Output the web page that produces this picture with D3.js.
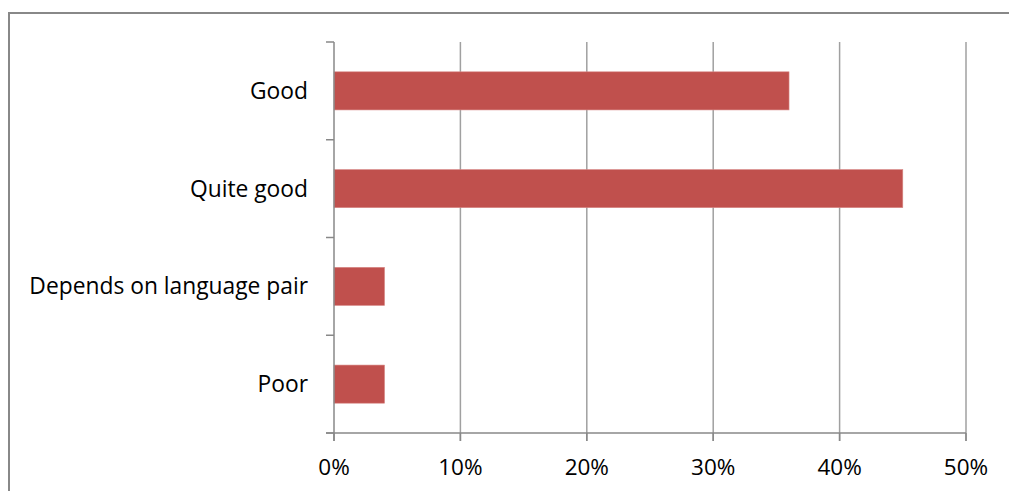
<!DOCTYPE html>
<html><head><meta charset="utf-8">
<script src="https://cdn.jsdelivr.net/npm/d3@7"></script>
<style>body{margin:0;background:#fff}svg{display:block}text{font-family:"Open Sans",sans-serif;fill:#000}</style>
</head><body><svg id="c" width="1009" height="491"></svg>
<script>
const categories = ["Good", "Quite good", "Depends on language pair", "Poor"];
const values = [36, 45, 4, 4];
const xTicks = [0, 10, 20, 30, 40, 50];

const svg = d3.select("#c");
svg.append("rect").attr("x",9).attr("y",13).attr("width",1100).attr("height",600)
  .attr("fill","none").attr("stroke","#888").attr("stroke-width",2);

const x = d3.scaleLinear().domain([0,50]).range([334,966]);
const y = d3.scaleBand().domain(categories).range([42,433]);

// gridlines
svg.append("g").selectAll("line").data(xTicks.slice(1)).join("line")
  .attr("x1",d=>x(d)).attr("x2",d=>x(d)).attr("y1",42).attr("y2",441)
  .attr("stroke","#a0a0a0").attr("stroke-width",1.5);

// bars
const bh = y.bandwidth()*0.39;
svg.append("g").selectAll("rect").data(values).join("rect")
  .attr("x",x(0)).attr("y",(d,i)=>y(categories[i])+y.bandwidth()/2-bh/2)
  .attr("width",d=>x(d)-x(0)).attr("height",bh)
  .attr("fill","#c0504d").attr("stroke","#d88a88").attr("stroke-width",0.6);

// y axis
const ya = svg.append("g");
ya.append("line").attr("x1",334).attr("x2",334).attr("y1",42).attr("y2",441).attr("stroke","#888").attr("stroke-width",1.5);
const yt = [42].concat(categories.map(c=>y(c)+y.step()));
ya.selectAll("line.t").data(yt).join("line").attr("class","t")
  .attr("x1",326).attr("x2",334).attr("y1",d=>d).attr("y2",d=>d).attr("stroke","#888").attr("stroke-width",1.5);
ya.selectAll("text").data(categories).join("text")
  .attr("x",308).attr("y",d=>y(d)+y.bandwidth()/2).attr("dy","0.35em")
  .attr("text-anchor","end").attr("font-size",22.8).text(d=>d);

// x axis
const xa = svg.append("g");
xa.append("line").attr("x1",326).attr("x2",966).attr("y1",433).attr("y2",433).attr("stroke","#888").attr("stroke-width",1.5);
xa.selectAll("line.t").data(xTicks).join("line").attr("class","t")
  .attr("x1",d=>x(d)).attr("x2",d=>x(d)).attr("y1",433).attr("y2",441).attr("stroke","#888").attr("stroke-width",1.5);
xa.selectAll("text").data(xTicks).join("text")
  .attr("x",d=>x(d)).attr("y",475).attr("text-anchor","middle").attr("font-size",22.5).text(d=>d+"%");
</script></body></html>
